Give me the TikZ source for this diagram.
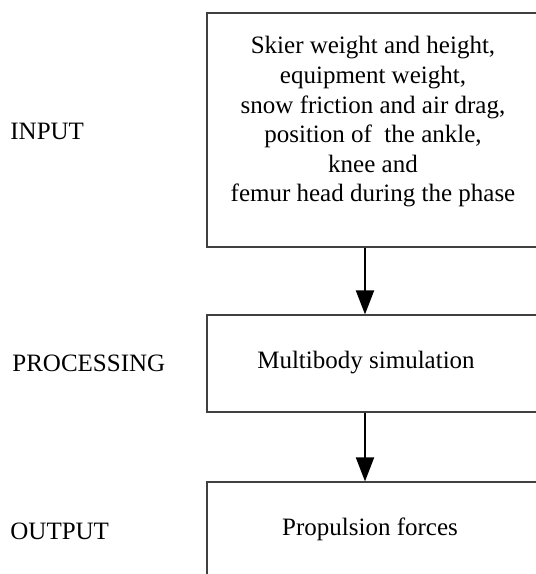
\documentclass[tikz,border=0pt]{standalone}
\usepackage{fontspec}
\setmainfont{Liberation Serif}
\usetikzlibrary{shapes,backgrounds}
\usetikzlibrary{arrows.meta}

\tikzset{
  box/.style = {draw = black!75, line width = 0.6pt, rectangle, minimum width = 170pt, inner sep = 0pt},
  stage/.style = {anchor = west, inner sep = 0pt},
  txt/.style = {align = center, inner sep = 0pt},
  flow/.style = {line width = 1pt, -{Triangle[length = 12pt, width = 9pt]}}
}

\begin{document}
\begin{tikzpicture}[x = 0.5pt, y = -0.5pt, font = \fontsize{12.5}{14.8}\selectfont]
\useasboundingbox (0,0) rectangle (536,574);
\node[box, minimum height = 117pt] (in) at (377,130) {};
\node[box, minimum height = 48.5pt] (proc) at (377,363.5) {};
\node[box, minimum height = 50pt] (out) at (377,532) {};
\node[txt] (intext) at (373,122) {Skier weight and height,\\ equipment weight,\\ snow friction and air drag,\\ position of \ the ankle,\\ knee and\\ femur head during the phase};
\node[txt] (proctext) at (366,363) {Multibody simulation};
\node[txt] (outtext) at (370,529) {Propulsion forces};
\node[stage] (inlab) at (10,131) {INPUT};
\node[stage] (proclab) at (12,363) {PROCESSING};
\node[stage] (outlab) at (10,531) {OUTPUT};
\draw[flow] ([xshift = -6pt]in.south) -- ([xshift = -6pt]proc.north);
\draw[flow] ([xshift = -6pt]proc.south) -- ([xshift = -6pt]out.north);
\end{tikzpicture}
\end{document}
